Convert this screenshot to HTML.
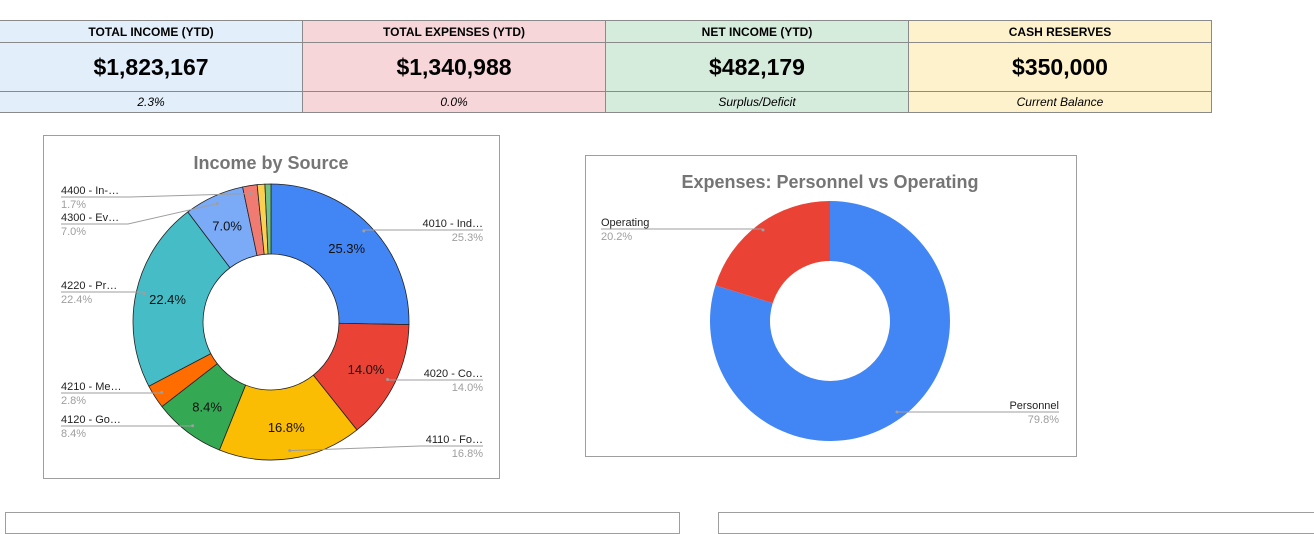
<!DOCTYPE html>
<html><head><meta charset="utf-8"><style>
body{margin:0;width:1314px;height:520px;background:#fff;font-family:"Liberation Sans",Arial,sans-serif;overflow:hidden;position:relative}
table{position:absolute;left:-1px;top:20px;border-collapse:collapse}
td{border:1px solid #8a8a8a;text-align:center;padding:0;width:302px}
.h td{height:21px;font-weight:bold;font-size:12px}
.v td{height:48px;font-weight:bold;font-size:23px}
.s td{height:20px;font-style:italic;font-size:12px}
.c1{background:#e2effb}.c2{background:#f7d6da}.c3{background:#d5ebdc}.c4{background:#fef2cc}
.box{position:absolute;border:1px solid #9e9e9e;background:#fff}
</style></head><body>
<table>
<tr class="h"><td class="c1">TOTAL INCOME (YTD)</td><td class="c2">TOTAL EXPENSES (YTD)</td><td class="c3">NET INCOME (YTD)</td><td class="c4">CASH RESERVES</td></tr>
<tr class="v"><td class="c1">$1,823,167</td><td class="c2">$1,340,988</td><td class="c3">$482,179</td><td class="c4">$350,000</td></tr>
<tr class="s"><td class="c1">2.3%</td><td class="c2">0.0%</td><td class="c3">Surplus/Deficit</td><td class="c4">Current Balance</td></tr>
</table>
<div class="box" style="left:43px;top:135px;width:455px;height:342px"></div>
<div class="box" style="left:585px;top:155px;width:490px;height:300px"></div>
<div class="box" style="left:5px;top:512px;width:673px;height:20px"></div>
<div class="box" style="left:718px;top:512px;width:600px;height:20px"></div>
<svg id="svg" width="1314" height="520" style="position:absolute;left:0;top:0">
<text x="271" y="169" text-anchor="middle" font-size="18" font-weight="bold" fill="#757575">Income by Source</text>
<text x="830" y="188" text-anchor="middle" font-size="18" font-weight="bold" fill="#757575">Expenses: Personnel vs Operating</text>
</svg>
<script>
const incomeNames=["4010 - Ind…","4020 - Co…","4110 - Fo…","4120 - Go…","4210 - Me…","4220 - Pr…","4300 - Ev…","4400 - In-…","other-a","other-b"];
const incomeValues=[25.3,14.0,16.8,8.4,2.8,22.4,7.0,1.7,0.9,0.7];
const incomeColors=["#4285f4","#ea4335","#fbbc04","#34a853","#ff6d01","#46bdc6","#7baaf7","#f07b72","#fcd04f","#71c287"];
const expenseNames=["Personnel","Operating"];
const expenseValues=[79.8,20.2];
const expenseColors=["#4285f4","#ea4335"];
const NS="http://www.w3.org/2000/svg",svg=document.getElementById('svg');
function mk(t,a){const e=document.createElementNS(NS,t);for(const k in a)e.setAttribute(k,a[k]);svg.appendChild(e);return e;}
function pt(cx,cy,r,a){return[cx+r*Math.sin(a),cy-r*Math.cos(a)];}
function donut(vals,cols,cx,cy,R,ri,stroke,prefix){
 const tot=vals.reduce((a,b)=>a+b,0);let a0=0;const mids=[];
 vals.forEach((v,i)=>{const a1=a0+v/tot*2*Math.PI;const lg=(a1-a0)>Math.PI?1:0;
  const [x1,y1]=pt(cx,cy,R,a0),[x2,y2]=pt(cx,cy,R,a1),[x3,y3]=pt(cx,cy,ri,a1),[x4,y4]=pt(cx,cy,ri,a0);
  const p=mk('path',{d:`M${x1},${y1}A${R},${R} 0 ${lg} 1 ${x2},${y2}L${x3},${y3}A${ri},${ri} 0 ${lg} 0 ${x4},${y4}Z`,fill:cols[i],stroke:stroke||'none','stroke-width':0.8});
  
  
  mids.push((a0+a1)/2);a0=a1;});
 return {mids,tot};
}
function leader(x,y,lx,ly,ux,name,val,anchor,lname){
 if(ux===null)ux=x;
 mk('polyline',{points:`${lx},${ly} ${ux},${ly} ${x},${y}`,fill:'none',stroke:'#9e9e9e','stroke-width':1});
 mk('circle',{cx:x,cy:y,r:1.5,fill:'#9e9e9e'});
 const t=mk('text',{x:lx,y:ly-3,'font-size':11,fill:'#222','text-anchor':anchor});t.textContent=name;
 
 
 const t2=mk('text',{x:lx,y:ly+11,'font-size':11,fill:'#9e9e9e','text-anchor':anchor});t2.textContent=val;
 
 
}
const c1={x:271,y:322,R:138,ri:68};
const d1=donut(incomeValues,incomeColors,c1.x,c1.y,c1.R,c1.ri,'#222','income');
incomeValues.forEach((v,i)=>{if(v/d1.tot<0.05)return;const [x,y]=pt(c1.x,c1.y,106,d1.mids[i]);
 const t=mk('text',{x:x,y:y+5,'font-size':13,'text-anchor':'middle',fill:'#111'});t.textContent=v.toFixed(1)+'%';
 
 });
const layout1=[[483,230,null,'end'],[483,380,null,'end'],[483,446,420,'end'],[61,426,null,'start'],[61,393,null,'start'],[61,292,null,'start'],[61,224,128,'start'],[61,197,130,'start']];
layout1.forEach((L,i)=>{const [x,y]=pt(c1.x,c1.y,130,d1.mids[i]);
 leader(x,y,L[0],L[1],L[2],incomeNames[i],(incomeValues[i]/d1.tot*100).toFixed(1)+'%',L[3],'income-legend-'+i);});
const c2={x:830,y:321,R:120,ri:60};
const d2=donut(expenseValues,expenseColors,c2.x,c2.y,c2.R,c2.ri,null,'expense');
const layout2=[[1059,412,null,'end'],[601,229,null,'start']];
layout2.forEach((L,i)=>{const [x,y]=pt(c2.x,c2.y,113,d2.mids[i]);
 leader(x,y,L[0],L[1],L[2],expenseNames[i],(expenseValues[i]/d2.tot*100).toFixed(1)+'%',L[3],'expense-legend-'+i);});
</script>
</body></html>
